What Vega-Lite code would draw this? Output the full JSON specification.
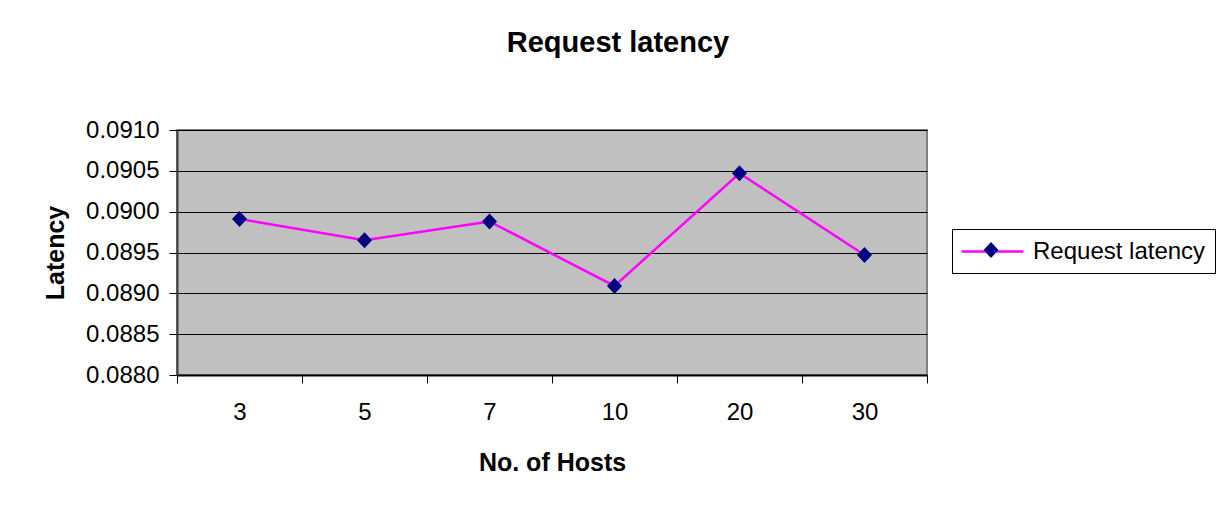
{
  "$schema": "https://vega.github.io/schema/vega-lite/v6.json",
  "width": 750,
  "height": 245,
  "autosize": {"type": "none"},
  "padding": {"left": 177, "top": 130, "right": 294, "bottom": 139},
  "background": "white",
  "title": {
    "text": "Request latency",
    "font": "Liberation Sans",
    "fontSize": 29,
    "fontWeight": "bold",
    "color": "black",
    "anchor": "middle",
    "frame": "group",
    "dx": 66,
    "offset": 60
  },
  "config": {
    "font": "Liberation Sans",
    "view": {"fill": "#C0C0C0", "stroke": "#808080", "strokeWidth": 2}
  },
  "data": {
    "values": [
      {"hosts": "3", "latency": 0.08991},
      {"hosts": "5", "latency": 0.08965},
      {"hosts": "7", "latency": 0.08988},
      {"hosts": "10", "latency": 0.08909},
      {"hosts": "20", "latency": 0.09047},
      {"hosts": "30", "latency": 0.08947}
    ]
  },
  "encoding": {
    "x": {
      "field": "hosts",
      "type": "ordinal",
      "sort": null,
      "scale": {"paddingInner": 0, "paddingOuter": 0},
      "axis": {
        "title": "No. of Hosts",
        "titleFont": "Liberation Sans",
        "titleFontSize": 25,
        "titleFontWeight": "bold",
        "titleColor": "black",
        "titlePadding": 26,
        "labelAngle": 0,
        "labelFont": "Liberation Sans",
        "labelFontSize": 24,
        "labelColor": "black",
        "labelPadding": 17,
        "tickBand": "extent",
        "tickSize": 8,
        "tickColor": "black",
        "domainColor": "black",
        "domainWidth": 2,
        "grid": false
      }
    },
    "y": {
      "field": "latency",
      "type": "quantitative",
      "scale": {"domain": [0.088, 0.091], "zero": false, "nice": false},
      "axis": {
        "title": "Latency",
        "titleFont": "Liberation Sans",
        "titleFontSize": 25,
        "titleFontWeight": "bold",
        "titleColor": "black",
        "titlePadding": 17,
        "values": [0.088, 0.0885, 0.089, 0.0895, 0.09, 0.0905, 0.091],
        "format": ".4f",
        "labelFont": "Liberation Sans",
        "labelFontSize": 24,
        "labelColor": "black",
        "labelPadding": 10,
        "tickSize": 8,
        "tickColor": "black",
        "domainColor": "#404040",
        "domainWidth": 2,
        "grid": true,
        "gridColor": "black",
        "gridWidth": 1,
        "gridOpacity": 1
      }
    }
  },
  "layer": [
    {
      "mark": {"type": "line", "strokeWidth": 2.5},
      "encoding": {
        "color": {
          "datum": "Request latency",
          "type": "nominal",
          "scale": {"range": ["#FF00FF"]},
          "legend": {
            "title": null,
            "orient": "none",
            "legendX": 775,
            "legendY": 99,
            "symbolType": "M-1.083,0H4.083",
            "symbolSize": 576,
            "symbolStrokeWidth": 2.5,
            "symbolFillColor": "transparent",
            "labelFont": "Liberation Sans",
            "labelFontSize": 24,
            "labelColor": "black",
            "labelLimit": 400,
            "labelOffset": 45,
            "padding": 9,
            "strokeColor": "black",
            "zindex": 0
          }
        }
      }
    },
    {
      "mark": {"type": "point", "filled": true, "opacity": 1, "size": 256, "color": "#000080"},
      "encoding": {
        "shape": {
          "datum": "marker",
          "type": "nominal",
          "scale": {"range": ["M0,-1L0.94,0L0,1L-0.94,0Z"]},
          "legend": {
            "title": null,
            "orient": "none",
            "legendX": 806,
            "legendY": 112,
            "symbolSize": 256,
            "symbolFillColor": "#000080",
            "symbolStrokeColor": "#000080",
            "symbolStrokeWidth": 0,
            "symbolOpacity": 1,
            "labelFontSize": 1,
            "labelOpacity": 0,
            "labelOffset": 0,
            "padding": 0,
            "zindex": 1
          }
        }
      }
    }
  ]
}
